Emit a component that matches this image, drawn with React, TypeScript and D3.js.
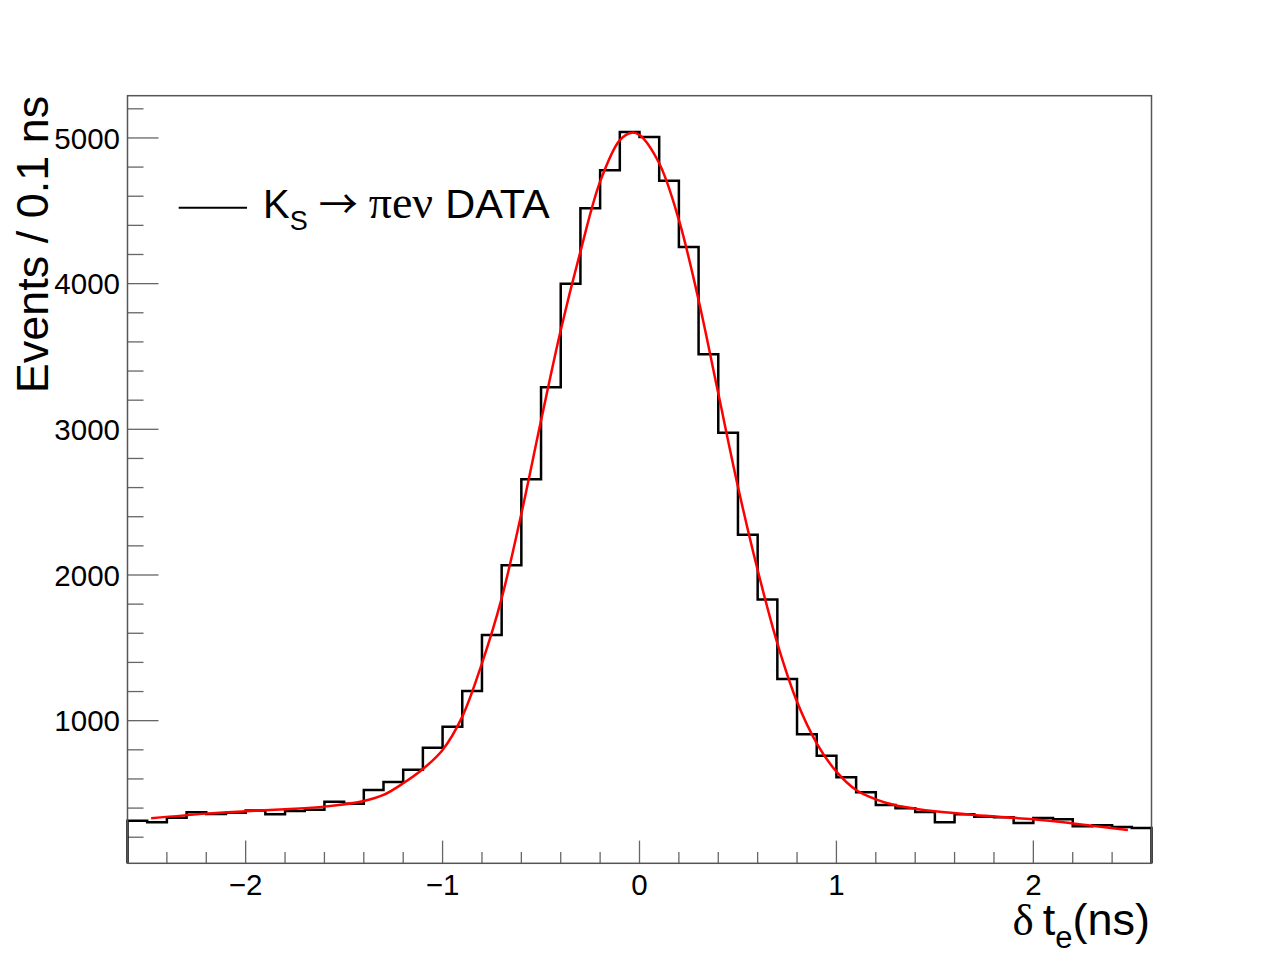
import * as d3 from 'd3';
import React, { useMemo } from 'react';

// histogram: 52 bins of 0.1 ns from -2.6 to 2.6
const binLow = -2.6;
const binWidth = 0.1;
const counts = [
    313, 302, 334, 371, 359, 368, 384, 357, 380, 389,
    444, 430, 524, 579, 664, 815, 959, 1204, 1588, 2067,
    2657, 3288, 3999, 4517, 4778, 5040, 5006, 4706, 4251, 3515,
    2977, 2276, 1831, 1286, 906, 760, 612, 509, 421, 399,
    373, 303, 358, 341, 337, 298, 332, 323, 275, 282,
    270, 263,
];

// fit curve
const fitX = [
    -2.48, -2.2, -2.0, -1.8, -1.6, -1.4, -1.3, -1.2, -1.1, -1.0,
    -0.9, -0.8, -0.7, -0.6, -0.5, -0.4, -0.3, -0.2, -0.1, -0.04,
    0.0, 0.1, 0.2, 0.3, 0.4, 0.5, 0.6, 0.7, 0.8, 0.9,
    1.0, 1.1, 1.2, 1.3, 1.4, 1.5, 1.7, 2.0, 2.2, 2.48,
];
const fitY = [
    330, 362, 378, 392, 410, 449, 490, 570, 668, 799,
    1028, 1394, 1840, 2420, 3060, 3680, 4220, 4700, 4985, 5036,
    5020, 4826, 4437, 3888, 3247, 2606, 2034, 1531, 1130, 845,
    650, 524, 460, 419, 396, 378, 353, 323, 295, 250,
];

const xMajor = [-2, -1, 0, 1, 2];
const xLabels = ['\u22122', '\u22121', '0', '1', '2'];
const yMajor = [1000, 2000, 3000, 4000, 5000];
const yLabels = ['1000', '2000', '3000', '4000', '5000'];

const W = 1280;
const H = 960;
const FONT = '"Liberation Sans", Arial, Helvetica, sans-serif';
const SERIF = '"Liberation Serif", "Times New Roman", serif';

export default function App() {
    const x = useMemo(() => d3.scaleLinear().domain([-2.6, 2.6]).range([127.5, 1151.5]), []);
    const y = useMemo(() => d3.scaleLinear().domain([21, 5290]).range([863.3, 95.7]), []);

    const [x0, x1] = x.range();
    const [y0, y1] = y.range();

    const histPath = useMemo(() => {
        const p = d3.path();
        p.moveTo(x(binLow), y0);
        counts.forEach((c, i) => {
            const lo = binLow + i * binWidth;
            p.lineTo(x(lo), y(c));
            p.lineTo(x(lo + binWidth), y(c));
        });
        p.lineTo(x(binLow + counts.length * binWidth), y0);
        return p.toString();
    }, [x, y, y0]);

    const fitLine = useMemo(() => {
        const pts = fitX.map((v, i) => [v, fitY[i]] as [number, number]);
        return d3
            .line<[number, number]>()
            .x((d) => x(d[0]))
            .y((d) => y(d[1]))
            .curve(d3.curveCatmullRom.alpha(0.5))(pts) ?? '';
    }, [x, y]);

    const xMinor = d3.range(-24, 25, 2).map((v) => v / 10).filter((v) => !xMajor.includes(v));
    const yMinor = d3.range(200, 5201, 200).filter((v) => v % 1000 !== 0);

    return (
        <svg
            width={W}
            height={H}
            viewBox={`0 0 ${W} ${H}`}
            style={{ position: 'absolute', left: 0, top: 0, background: 'white' }}
        >
            <rect x={0} y={0} width={W} height={H} fill="white" />

            {/* x ticks */}
            {xMajor.map((v) => (
                <line key={`xM${v}`} x1={x(v)} x2={x(v)} y1={y0} y2={y0 - 22.7} stroke="#666" strokeWidth={1.3} />
            ))}
            {xMinor.map((v) => (
                <line key={`xm${v}`} x1={x(v)} x2={x(v)} y1={y0} y2={y0 - 11.3} stroke="#666" strokeWidth={1.3} />
            ))}
            {/* y ticks */}
            {yMajor.map((v) => (
                <line key={`yM${v}`} x1={x0} x2={x0 + 31} y1={y(v)} y2={y(v)} stroke="#666" strokeWidth={1.3} />
            ))}
            {yMinor.map((v) => (
                <line key={`ym${v}`} x1={x0} x2={x0 + 16} y1={y(v)} y2={y(v)} stroke="#666" strokeWidth={1.3} />
            ))}

            <path d={histPath} fill="none" stroke="black" strokeWidth={2.5} strokeLinejoin="miter" />
            <path d={fitLine} fill="none" stroke="#ff0000" strokeWidth={2.5} />

            {/* frame */}
            <rect x={x0} y={y1} width={x1 - x0} height={y0 - y1} fill="none" stroke="#555" strokeWidth={1.5} />

            {/* tick labels */}
            {xMajor.map((v, i) => (
                <text key={`xl${v}`} x={x(v)} y={895} textAnchor="middle" fontFamily={FONT} fontSize={29.5}>
                    {xLabels[i]}
                </text>
            ))}
            {yMajor.map((v, i) => (
                <text key={`yl${v}`} x={120} y={y(v) + 10.8} textAnchor="end" fontFamily={FONT} fontSize={29.5}>
                    {yLabels[i]}
                </text>
            ))}

            {/* axis titles */}
            <text x={1150} y={935} textAnchor="end" fontFamily={FONT} fontSize={45}>
                <tspan fontFamily={SERIF}>δ</tspan>
                <tspan dx={9}>t</tspan>
                <tspan fontSize={31} dy={13}>e</tspan>
                <tspan dy={-13}>(ns)</tspan>
            </text>
            <text
                transform={`translate(48, ${y1}) rotate(-90)`}
                textAnchor="end"
                fontFamily={FONT}
                fontSize={45}
            >
                Events / 0.1 ns
            </text>

            {/* legend */}
            <line x1={178.7} x2={247} y1={207.7} y2={207.7} stroke="black" strokeWidth={2} />
            <text x={263} y={218.3} fontFamily={FONT} fontSize={40}>
                <tspan>K</tspan>
                <tspan fontSize={27} dy={12}>S</tspan>
                <tspan dy={-12} dx={11} fontSize={39} fontFamily='"Noto Sans CJK SC", "DejaVu Sans", sans-serif'>→</tspan>
                <tspan dx={11} fontSize={46} fontFamily={SERIF}>πeν</tspan>
                <tspan dx={12} fontSize={41.5}>DATA</tspan>
            </text>
        </svg>
    );
}
